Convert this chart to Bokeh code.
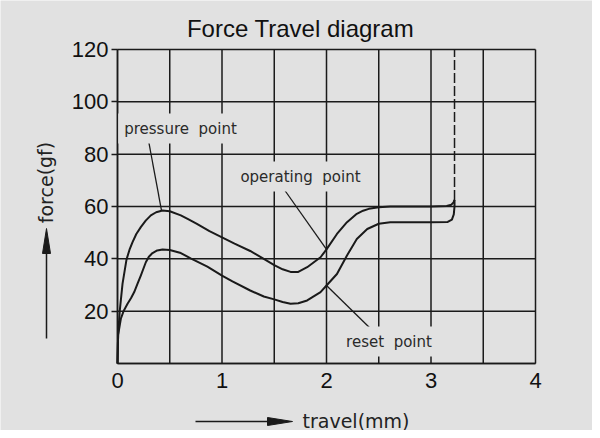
from bokeh.plotting import figure
from bokeh.models import FixedTicker, Label, Arrow, Range1d
from bokeh.embed import file_html
from bokeh.resources import INLINE

# ---- data ----
pressure_x = [0, 0.006, 0.022, 0.048, 0.086, 0.115, 0.144, 0.18, 0.223, 0.27, 0.319, 0.37, 0.431, 0.5,
              0.606, 0.68, 0.76, 0.88, 1.0, 1.12, 1.27, 1.4, 1.5, 1.58, 1.656, 1.73, 1.815, 1.943,
              2.0, 2.10, 2.196, 2.29, 2.35, 2.405, 2.5, 2.61, 3.0, 3.15, 3.195, 3.215, 3.225]
pressure_y = [0, 11, 20.3, 30.4, 39.7, 43.5, 46.4, 49.5, 52.1, 54.6, 56.6, 57.8, 58.5, 58.2,
              56.6, 55.1, 53.4, 50.6, 48.2, 45.8, 43.0, 40.0, 37.6, 36.0, 35.0, 35.0, 36.8, 40.6,
              43.6, 49.5, 54.0, 57.2, 58.4, 59.1, 59.7, 60.0, 60.0, 60.2, 60.7, 61.5, 62.5]
reset_x = [0, 0.006, 0.032, 0.06, 0.096, 0.13, 0.16, 0.19, 0.223, 0.271, 0.3, 0.335, 0.38, 0.431,
           0.5, 0.606, 0.7, 0.86, 1.0, 1.1, 1.27, 1.4, 1.5, 1.58, 1.656, 1.73, 1.815, 1.943, 2.0,
           2.10, 2.196, 2.29, 2.39, 2.5, 2.61, 3.0, 3.16, 3.2, 3.218, 3.225, 3.225]
reset_y = [0, 11, 17.1, 20.2, 22.8, 25.0, 27.3, 30.3, 33.6, 38.7, 40.8, 42.2, 43.2, 43.6,
           43.4, 42.2, 40.2, 37.0, 33.6, 31.4, 27.9, 25.6, 24.5, 23.5, 22.8, 23.0, 24.1, 27.3, 29.8,
           34.2, 41.3, 47.6, 51.4, 53.4, 54.0, 54.0, 54.1, 55.0, 57.0, 60.0, 62.5]
limit_x = [3.225, 3.225]
limit_y = [62.5, 120]

x_ticks = [0, 1, 2, 3, 4]
x_grid = [0, 0.5, 1, 1.5, 2, 2.5, 3, 3.5, 4]
y_ticks = [20, 40, 60, 80, 100, 120]
y_grid = [0, 20, 40, 60, 80, 100, 120]

title_text = "Force Travel diagram"
x_label = "travel(mm)"
y_label = "force(gf)"
notes = ["pressure\u00a0 point", "operating\u00a0 point", "reset\u00a0 point"]

# ---- layout (pixels) ----
W, H = 592, 430
PLOT_L, PLOT_R, PLOT_T, PLOT_B = 117, 535, 49, 363
X0, X1, Y0, Y1 = 0, 4, 0, 120
sx = (PLOT_R - PLOT_L) / (X1 - X0)   # px per x unit
sy = (PLOT_B - PLOT_T) / (Y1 - Y0)   # px per y unit


def dx(px):
    return X0 + (px - PLOT_L) / sx


def dy(py):
    return Y0 + (PLOT_B - py) / sy


BG = "#e1e1e1"
INK = "#1a1a1a"

p = figure(width=W, height=H, output_backend="svg", toolbar_location=None, title=None,
           x_range=Range1d(dx(0), dx(W)), y_range=Range1d(dy(H), dy(0)), min_border=0)
p.background_fill_color = BG
p.border_fill_color = BG
p.outline_line_color = None
p.xgrid.visible = False
p.ygrid.visible = False

# axes (library axes pinned at the data origin)
p.xaxis.fixed_location = Y0
p.yaxis.fixed_location = X0
p.xaxis.bounds = (X0, X1)
p.yaxis.bounds = (Y0, Y1)
p.xaxis.ticker = FixedTicker(ticks=x_ticks)
p.yaxis.ticker = FixedTicker(ticks=y_ticks)
for ax in (p.xaxis[0], p.yaxis[0]):
    ax.axis_line_color = INK
    ax.axis_line_width = 1.5
    ax.major_tick_line_color = INK
    ax.major_tick_line_width = 1.5
    ax.minor_tick_line_color = None
    ax.major_label_text_font = "Liberation Sans"
    ax.major_label_text_font_size = "22px"
    ax.major_label_text_color = "#111111"
p.xaxis.major_tick_out = 0
p.xaxis.major_tick_in = 0
p.xaxis.major_label_standoff = 9
p.yaxis.major_tick_out = 6
p.yaxis.major_tick_in = 0
p.yaxis.major_label_standoff = 3

# grid lines bounded to the plot box
p.segment(x0=x_grid, y0=[Y0] * len(x_grid), x1=x_grid, y1=[Y1] * len(x_grid),
          line_color=INK, line_width=1.5)
p.segment(x0=[X0] * len(y_grid), y0=y_grid, x1=[X1] * len(y_grid), y1=y_grid,
          line_color=INK, line_width=1.5)

# curves
p.line(pressure_x, pressure_y, line_color=INK, line_width=2, line_join="round")
p.line(reset_x, reset_y, line_color=INK, line_width=2, line_join="round")
p.line(limit_x, limit_y, line_color=INK, line_width=1.5, line_dash="10 3")

# leader lines
p.line([dx(148), 0.421], [dy(140), 58.5], line_color=INK, line_width=1.3)
p.line([dx(283), 2.0], [dy(188), 43.6], line_color=INK, line_width=1.3)
p.line([dx(373), 2.0], [dy(331), 29.8], line_color=INK, line_width=1.3)

# annotation labels (with background boxes that break the grid)
note_pos = [(180, 128), (300, 176), (388.5, 341)]
for txt, (lx, ly) in zip(notes, note_pos):
    p.add_layout(Label(x=dx(lx), y=dy(ly), text=txt, text_align="center", text_baseline="middle",
                       text_font="DejaVu Sans", text_font_size="15px", text_color="#2a2a2a",
                       background_fill_color=BG, padding=6))

# title and axis labels
p.add_layout(Label(x=dx(300), y=dy(28), text=title_text, text_align="center", text_baseline="middle",
                   text_font="Liberation Sans", text_font_size="24px", text_color="#111111"))
p.add_layout(Label(x=dx(355.5), y=dy(420), text=x_label, text_align="center", text_baseline="middle",
                   text_font="DejaVu Sans", text_font_size="19px", text_color="#222222"))
p.add_layout(Label(x=dx(45), y=dy(182), text=y_label, text_align="center", text_baseline="middle",
                   angle=1.5708, text_font="DejaVu Sans", text_font_size="19px", text_color="#222222"))

# axis direction arrows: shaft + long narrow head
HEAD_LEN, HEAD_HALF = 25, 4
# horizontal arrow (travel)
ax0, ax1, ay = 195, 292, 421
p.add_layout(Arrow(end=None, x_start=dx(ax0), y_start=dy(ay), x_end=dx(ax1 - HEAD_LEN), y_end=dy(ay),
                   line_color=INK, line_width=1.5))
p.patch([dx(ax1), dx(ax1 - HEAD_LEN), dx(ax1 - HEAD_LEN)],
        [dy(ay), dy(ay - HEAD_HALF), dy(ay + HEAD_HALF)], fill_color=INK, line_color=INK, line_width=1)
# vertical arrow (force)
vx, vy0, vy1 = 46, 338, 228
p.add_layout(Arrow(end=None, x_start=dx(vx), y_start=dy(vy0), x_end=dx(vx), y_end=dy(vy1 + HEAD_LEN),
                   line_color=INK, line_width=1.5))
p.patch([dx(vx), dx(vx - HEAD_HALF), dx(vx + HEAD_HALF)],
        [dy(vy1), dy(vy1 + HEAD_LEN), dy(vy1 + HEAD_LEN)], fill_color=INK, line_color=INK, line_width=1)

open("out.html", "w").write(file_html(p, INLINE))
